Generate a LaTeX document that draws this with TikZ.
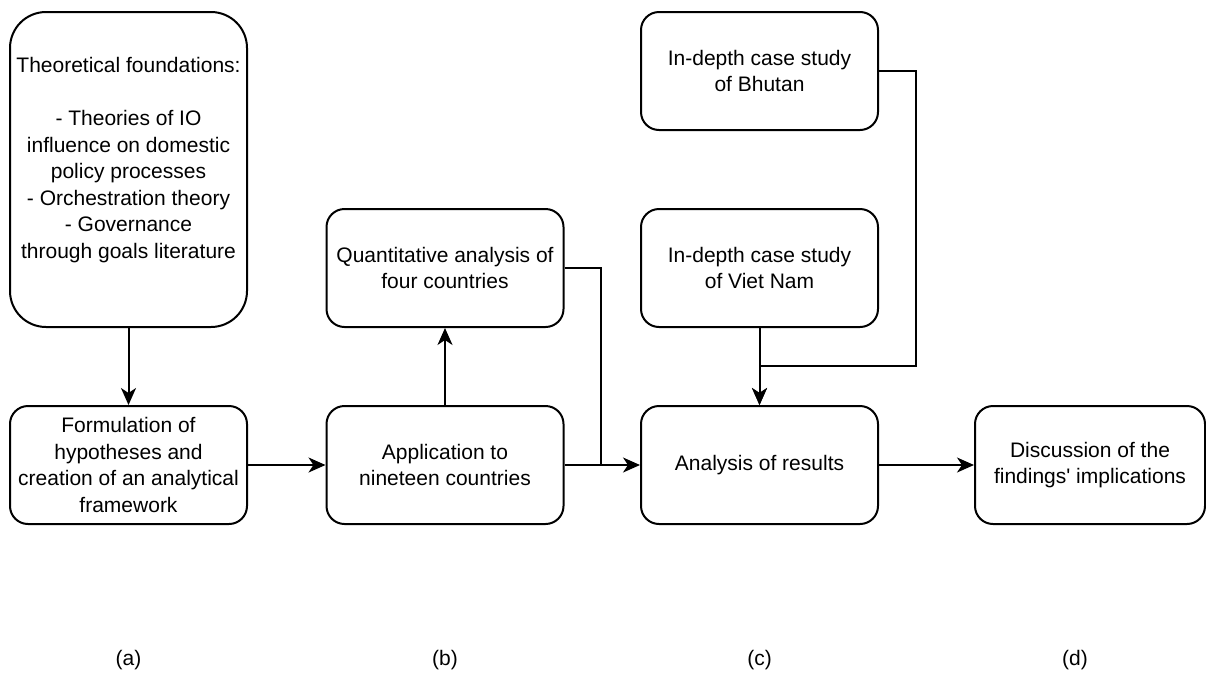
\documentclass[tikz,border=0pt]{standalone}
\usepackage{fontspec}
\setmainfont{Liberation Sans}
\usetikzlibrary{arrows.meta}
\begin{document}
\begin{tikzpicture}[x=1pt,y=-1pt,
  every node/.style={font=\fontsize{21}{26.5}\selectfont},
  stepbox/.style={draw,line width=2pt,rounded corners=18pt,minimum width=237pt,minimum height=118pt,align=center,inner sep=0pt},
  arr/.style={line width=2pt,-{Stealth[length=17pt,width=15pt,inset=5pt]}},
  ln/.style={line width=2pt}]
\useasboundingbox (0,0) rectangle (1206,673);
\node[stepbox,minimum height=315pt,rounded corners=36pt] (A) at (128.5,169.5) {};
\node[align=center] (At) at (128.5,160) {Theoretical foundations:\\[26.5pt]- Theories of IO\\influence on domestic\\policy processes\\- Orchestration theory\\- Governance\\through goals literature};
\node[stepbox] (B) at (128.5,465) {Formulation of\\hypotheses and\\creation of an analytical\\framework};
\node[stepbox] (C) at (445,465) {Application to\\nineteen countries};
\node[stepbox] (D) at (445,268) {Quantitative analysis of\\four countries};
\node[stepbox] (E) at (759.5,465) {Analysis of results};
\node[stepbox] (F) at (759.5,268) {In-depth case study\\of Viet Nam};
\node[stepbox] (G) at (759.5,71) {In-depth case study\\of Bhutan};
\node[stepbox,minimum width=230pt] (H) at (1090,465) {Discussion of the\\findings\textquotesingle{} implications};
\coordinate (j1) at (601,465);
\coordinate (j2) at (916,366);
\draw[arr] (A.south) -- (B.north);
\draw[arr] (B.east) -- (C.west);
\draw[arr] (C.north) -- (D.south);
\draw[ln] (C.east) -- (j1);
\draw[arr] (D.east) -| (j1) -- (E.west);
\draw[arr] (F.south) -- (E.north);
\draw[arr] (G.east) -| (j2) -| (E.north);
\draw[arr] (E.east) -- (H.west);
\node (la) at (128.5,660) {(a)};
\node (lb) at (445,660) {(b)};
\node (lc) at (759.5,660) {(c)};
\node (ld) at (1075,660) {(d)};
\end{tikzpicture}
\end{document}
